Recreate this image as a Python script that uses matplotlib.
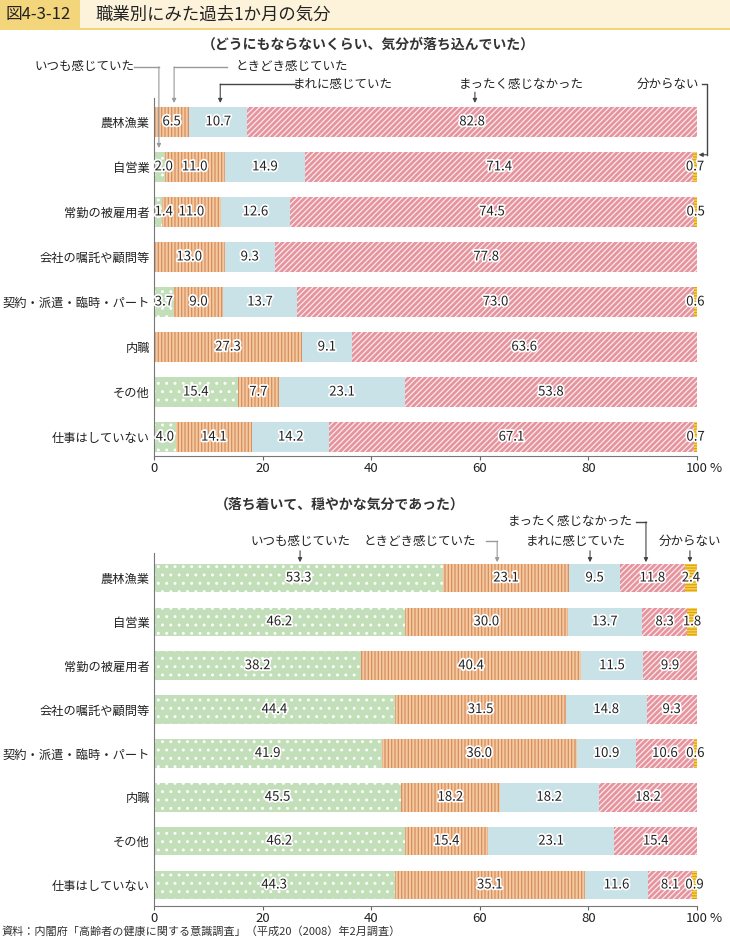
import matplotlib
matplotlib.use("Agg")
import matplotlib.pyplot as plt
import matplotlib.patheffects as pe
from matplotlib.patches import Rectangle
import numpy as np

plt.rcParams['font.family'] = ['Noto Sans CJK JP', 'DejaVu Sans']
plt.rcParams['hatch.linewidth'] = 0.9

categories = ["農林漁業", "自営業", "常勤の被雇用者", "会社の嘱託や顧問等",
              "契約・派遣・臨時・パート", "内職", "その他", "仕事はしていない"]
series = ["いつも感じていた", "ときどき感じていた", "まれに感じていた",
          "まったく感じなかった", "分からない"]

# （どうにもならないくらい、気分が落ち込んでいた）
low_always = [0, 2.0, 1.4, 0, 3.7, 0, 15.4, 4.0]
low_sometimes = [6.5, 11.0, 11.0, 13.0, 9.0, 27.3, 7.7, 14.1]
low_rarely = [10.7, 14.9, 12.6, 9.3, 13.7, 9.1, 23.1, 14.2]
low_never = [82.8, 71.4, 74.5, 77.8, 73.0, 63.6, 53.8, 67.1]
low_unknown = [0, 0.7, 0.5, 0, 0.6, 0, 0, 0.7]

# （落ち着いて、穏やかな気分であった）
calm_always = [53.3, 46.2, 38.2, 44.4, 41.9, 45.5, 46.2, 44.3]
calm_sometimes = [23.1, 30.0, 40.4, 31.5, 36.0, 18.2, 15.4, 35.1]
calm_rarely = [9.5, 13.7, 11.5, 14.8, 10.9, 18.2, 23.1, 11.6]
calm_never = [11.8, 8.3, 9.9, 9.3, 10.6, 18.2, 15.4, 8.1]
calm_unknown = [2.4, 1.8, 0, 0, 0.6, 0, 0, 0.9]

# face colour, hatch colour, hatch
styles = [("#c3dfba", "white", ".."),
          ("#f3c9a2", "#d98d5c", "|||||"),
          ("#c9e2e8", "#c9e2e8", None),
          ("#e5949e", "#fbe9eb", "//////"),
          ("#f5d15c", "#e0a300", "------")]

fig = plt.figure(figsize=(7.30, 9.38), dpi=100)

# title bar
fig.add_artist(Rectangle((0, 1 - 28 / 938), 1, 28 / 938, transform=fig.transFigure,
                         facecolor="#fdf2da", edgecolor="none"))
fig.add_artist(Rectangle((0, 1 - 28 / 938), 80 / 730, 28 / 938, transform=fig.transFigure,
                         facecolor="#f3d57c", edgecolor="none"))
fig.add_artist(Rectangle((0, 1 - 30 / 938), 1, 2 / 938, transform=fig.transFigure,
                         facecolor="#f3d57c", edgecolor="none"))
fig.text(6 / 730, 1 - 15 / 938, "図4-3-12", fontsize=12, va="center", color="#222")
fig.text(95 / 730, 1 - 15 / 938, "職業別にみた過去1か月の気分", fontsize=12.5, va="center", color="#222")
fig.text(368 / 730, 1 - 45 / 938, "（どうにもならないくらい、気分が落ち込んでいた）",
         fontsize=10, ha="center", va="center", fontweight="bold", color="#333")
fig.text(340 / 730, 1 - 505 / 938, "（落ち着いて、穏やかな気分であった）",
         fontsize=10, ha="center", va="center", fontweight="bold", color="#333")
fig.text(2 / 730, 1 - 931 / 938,
         "資料：内閣府「高齢者の健康に関する意識調査」（平成20（2008）年2月調査）",
         fontsize=8, va="center", color="#333")

ax1 = fig.add_axes([154 / 730, 1 - 456 / 938, 543 / 730, 358 / 938])
ax2 = fig.add_axes([154 / 730, 1 - 906 / 938, 543 / 730, 353 / 938])

panels = [(ax1, [low_always, low_sometimes, low_rarely, low_never, low_unknown], 0.67, (7.42, -0.53)),
          (ax2, [calm_always, calm_sometimes, calm_rarely, calm_never, calm_unknown], 0.65, (7.48, -0.57))]

halo = [pe.withStroke(linewidth=2.5, foreground="white")]
y = np.arange(len(categories))

for ax, data, h, ylim in panels:
    left = np.zeros(len(categories))
    for k, vals in enumerate(data):
        vals = np.array(vals, dtype=float)
        fc, hc, hatch = styles[k]
        ax.barh(y, vals, left=left, height=h, color=fc, edgecolor=hc,
                hatch=hatch, linewidth=0, zorder=2)
        for i, v in enumerate(vals):
            if v <= 0:
                continue
            x = left[i] + v / 2
            ha = "center"
            if k == 0 and v < 3:
                x = left[i] + 0.1
                ha = "left"
            ax.text(x, i, f"{v:.1f}", ha=ha, va="center", fontsize=9.5,
                    color="#222", path_effects=halo, zorder=5)
        left += vals
    ax.set_xlim(0, 100)
    ax.set_ylim(*ylim)
    ax.set_yticks(y)
    ax.set_yticklabels(categories, fontsize=8.8, color="#222")
    ax.tick_params(axis="y", length=0, pad=3)
    ax.set_xticks([0, 20, 40, 60, 80, 100])
    ax.set_xticklabels(["0", "20", "40", "60", "80", "100"], fontsize=9.5, color="#222")
    ax.tick_params(axis="x", length=3, color="#666", pad=1)
    for s in ["top", "right"]:
        ax.spines[s].set_visible(False)
    for s in ["left", "bottom"]:
        ax.spines[s].set_color("#777")
        ax.spines[s].set_linewidth(0.8)
    ax.annotate("%", xy=(102.3, 0), xycoords=ax.get_xaxis_transform(),
                xytext=(0, -4), textcoords="offset points", ha="left", va="top",
                fontsize=9.5, color="#222", annotation_clip=False)

arrow = dict(arrowstyle="-|>", color="#333", lw=0.8, mutation_scale=6, shrinkA=0, shrinkB=0)


def leader(ax, text, tx, ty, path, color="#444", ha="center"):
    ax.text(tx, ty, text, ha=ha, va="center", fontsize=9, color="#222", clip_on=False)
    xs = [p[0] for p in path]
    ys = [p[1] for p in path]
    if len(path) > 2:
        ax.plot(xs[:-1], ys[:-1], color=color, lw=1.0, clip_on=False, zorder=6)
    st = dict(arrow)
    st["color"] = color
    ax.annotate("", xy=path[-1], xytext=path[-2], arrowprops=st, annotation_clip=False, zorder=6)


# top chart legend
leader(ax1, series[0], -12.8, -1.22, [(-3.6, -1.22), (0.9, -1.22), (0.9, 0.58)], color="#999")
leader(ax1, series[1], 25.4, -1.22, [(13.4, -1.22), (3.7, -1.22), (3.7, -0.42)], color="#999")
leader(ax1, series[2], 34.8, -0.84, [(26.1, -0.84), (12.2, -0.84), (12.2, -0.42)])
leader(ax1, series[3], 67.6, -0.84, [(59.1, -0.66), (59.1, -0.42)])
leader(ax1, series[4], 94.6, -0.84, [(101.0, -0.84), (101.8, -0.84), (101.8, 0.73), (100.3, 0.73)])

# bottom chart legend
leader(ax2, series[0], 26.9, -0.84, [(26.9, -0.62), (26.9, -0.36)])
leader(ax2, series[1], 49.0, -0.84, [(61.2, -0.84), (63.2, -0.84), (63.2, -0.36)], color="#999")
leader(ax2, series[2], 77.7, -0.84, [(80.3, -0.62), (80.3, -0.36)])
leader(ax2, series[3], 76.6, -1.28, [(88.8, -1.28), (90.6, -1.28), (90.6, -0.36)])
leader(ax2, series[4], 98.7, -0.84, [(98.7, -0.62), (98.7, -0.36)])

fig.savefig("out.png", dpi=100)
